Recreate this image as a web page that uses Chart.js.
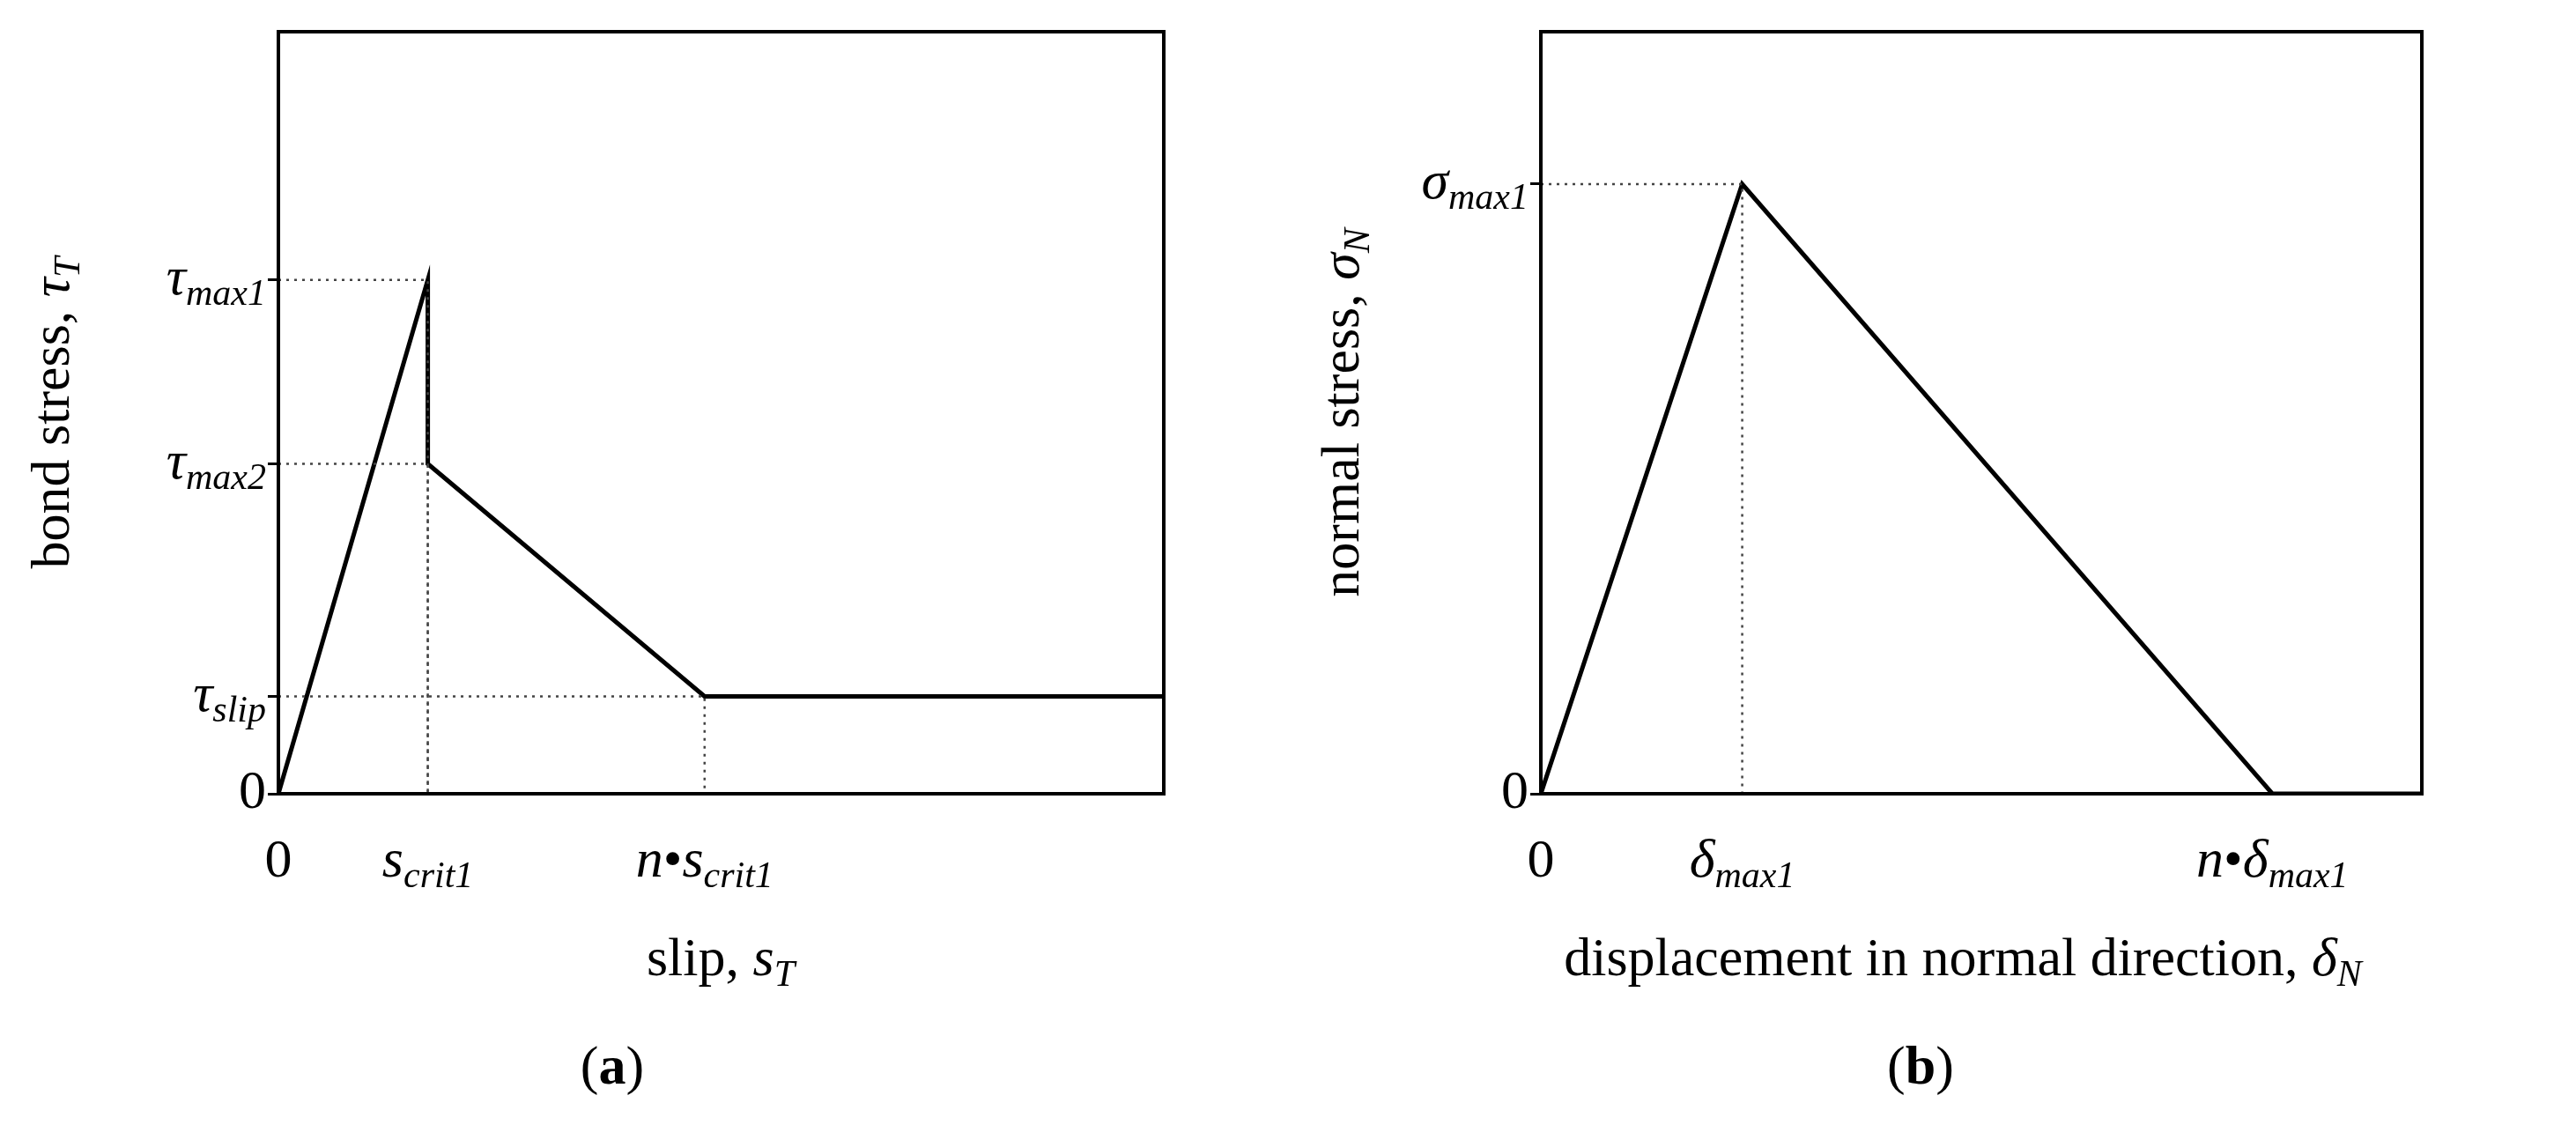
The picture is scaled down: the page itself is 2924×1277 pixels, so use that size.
<!DOCTYPE html>
<html>
<head>
<meta charset="utf-8">
<script src="https://cdn.jsdelivr.net/npm/chart.js"></script>
<style>
  body { margin: 0; background: #fff; width: 2924px; height: 1277px; overflow: hidden; }
  .panel { position: absolute; top: 0; height: 1277px; }
</style>
</head>
<body>
<div class="panel" style="left:0;width:1330px"><canvas id="chartA"></canvas></div>
<div class="panel" style="left:1400px;width:1524px"><canvas id="chartB"></canvas></div>
<script>
// (a) bond stress vs slip
const slipX = [0, 95, 95, 271, 563];
const bondY = [0, 327, 210, 62, 62];
const slipTicks = [0, 95, 271];
const bondTicks = [0, 62, 210, 327];
// (b) normal stress vs displacement
const dispX = [0, 128, 465, 560];
const normalY = [0, 388, 0, 0];
const dispTicks = [0, 128, 465];
const normalTicks = [0, 388];

const FONT = '"Liberation Serif", "DejaVu Serif", serif';
const SIZE = 62, SUB = 42;

const T = (t) => ({ t });
const I = (t) => ({ t, i: true });
const S = (t) => ({ t, i: true, sub: true });
const B = (t) => ({ t, b: true });

function fontOf(p) {
  return (p.i ? 'italic ' : '') + (p.b ? 'bold ' : '') + (p.sub ? SUB : SIZE) + 'px ' + FONT;
}
function drawRich(ctx, parts, x, y, align) {
  let w = 0;
  parts.forEach(p => { ctx.font = fontOf(p); w += ctx.measureText(p.t).width; });
  let cx = align === 'right' ? x - w : align === 'center' ? x - w / 2 : x;
  ctx.textBaseline = 'middle';
  ctx.textAlign = 'left';
  ctx.fillStyle = '#000';
  parts.forEach(p => {
    ctx.font = fontOf(p);
    ctx.fillText(p.t, cx, p.sub ? y + SIZE * 0.28 : y);
    cx += ctx.measureText(p.t).width;
  });
}

function labelsPlugin(cfg) {
  return {
    id: 'labels',
    afterDraw(chart) {
      const { ctx, chartArea: a, scales } = chart;
      ctx.save();
      ctx.strokeStyle = '#000';
      ctx.lineWidth = 4;
      ctx.strokeRect(a.left, a.top, a.right - a.left, a.bottom - a.top);
      cfg.yLabels.forEach((parts, k) => {
        drawRich(ctx, parts, a.left - 14, scales.y.getPixelForValue(cfg.yTicks[k]), 'right');
      });
      cfg.xLabels.forEach((parts, k) => {
        drawRich(ctx, parts, scales.x.getPixelForValue(cfg.xTicks[k]), a.bottom + 78, 'center');
      });
      drawRich(ctx, cfg.xTitle, cfg.xTitleX, 1091, 'center');
      drawRich(ctx, cfg.panel, cfg.panelX, 1214, 'center');
      ctx.translate(cfg.yTitleX, (a.top + a.bottom) / 2);
      ctx.rotate(-Math.PI / 2);
      drawRich(ctx, cfg.yTitle, 0, 0, 'center');
      ctx.restore();
    }
  };
}

function guideSets(xs, ys) {
  // dotted reference lines from each kink point to both axes
  return xs.map((x, k) => ({
    data: [{ x: 0, y: ys[k] }, { x: x, y: ys[k] }, { x: x, y: 0 }],
    showLine: true, borderColor: '#444', borderWidth: 2.5, borderDash: [3, 6],
    pointRadius: 0, fill: false
  }));
}

function makeChart(id, cfg) {
  const curve = cfg.cx.map((x, k) => ({ x, y: cfg.cy[k] }));
  new Chart(document.getElementById(id), {
    type: 'scatter',
    data: {
      datasets: [
        ...guideSets(cfg.gx, cfg.gy),
        { data: curve, showLine: true, borderColor: '#000', borderWidth: 5, pointRadius: 0, fill: false }
      ]
    },
    options: {
      responsive: true, maintainAspectRatio: false, animation: false,
      layout: { padding: cfg.padding },
      plugins: { legend: { display: false }, tooltip: { enabled: false } },
      scales: {
        x: {
          type: 'linear', min: 0, max: cfg.xMax,
          afterBuildTicks: (s) => { s.ticks = cfg.xTicks.map(v => ({ value: v })); },
          afterFit: (s) => { s.height = 20; },
          ticks: { display: false },
          grid: { drawOnChartArea: false, drawTicks: false },
          border: { color: '#000', width: 4 }
        },
        y: {
          type: 'linear', min: 0, max: 485,
          afterBuildTicks: (s) => { s.ticks = cfg.yTicks.map(v => ({ value: v })); },
          afterFit: (s) => { s.width = 20; },
          ticks: { display: false },
          grid: { drawOnChartArea: false, tickLength: 12, color: '#000', lineWidth: 3 },
          border: { color: '#000', width: 4 }
        }
      }
    },
    plugins: [labelsPlugin(cfg)]
  });
}

makeChart('chartA', {
  cx: slipX, cy: bondY, xMax: 563, xTicks: slipTicks, yTicks: bondTicks,
  gx: [95, 95, 271], gy: [327, 210, 62],
  padding: { left: 296, right: 9, top: 36, bottom: 356 },
  yLabels: [[T('0')], [I('τ'), S('slip')], [I('τ'), S('max2')], [I('τ'), S('max1')]],
  xLabels: [[T('0')], [I('s'), S('crit1')], [I('n'), T('•'), I('s'), S('crit1')]],
  xTitle: [T('slip, '), I('s'), S('T')], xTitleX: 818,
  yTitle: [T('bond stress, '), I('τ'), S('T')], yTitleX: 62,
  panel: [T('('), B('a'), T(')')], panelX: 695
});

makeChart('chartB', {
  cx: dispX, cy: normalY, xMax: 560, xTicks: dispTicks, yTicks: normalTicks,
  gx: [128], gy: [388],
  padding: { left: 329, right: 175, top: 36, bottom: 356 },
  yLabels: [[T('0')], [I('σ'), S('max1')]],
  xLabels: [[T('0')], [I('δ'), S('max1')], [I('n'), T('•'), I('δ'), S('max1')]],
  xTitle: [T('displacement in normal direction, '), I('δ'), S('N')], xTitleX: 828,
  yTitle: [T('normal stress, '), I('σ'), S('N')], yTitleX: 126,
  panel: [T('('), B('b'), T(')')], panelX: 780
});
</script>
</body>
</html>
